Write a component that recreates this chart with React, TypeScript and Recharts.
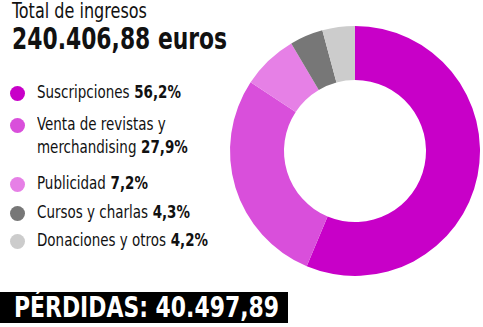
import React from 'react';
import { PieChart, Pie, Cell } from 'recharts';

const categories = ['Suscripciones', 'Venta de revistas y merchandising', 'Publicidad', 'Cursos y charlas', 'Donaciones y otros'];
const legendLines = [['Suscripciones'], ['Venta de revistas y', 'merchandising'], ['Publicidad'], ['Cursos y charlas'], ['Donaciones y otros']];
const shares = [56.2, 27.9, 7.2, 4.3, 4.2];
const colors = ['#c800c8', '#d94fdb', '#e680e6', '#777777', '#cccccc'];
// vertical centre of every legend entry's first line
const legendRowY = [92, 124, 183, 212, 240];

const data = categories.map((name, i) => ({ name, value: shares[i] }));

const FONT = '"DejaVu Sans Condensed", "DejaVu Sans", sans-serif';

const fmt = (v: number) => v.toFixed(1).replace('.', ',') + '%';

// narrow text, the original uses a condensed face
const Squeeze: React.FC<{ sx: number; children: React.ReactNode }> = ({ sx, children }) => (
    <span style={{ display: 'inline-block', transform: `scaleX(${sx})`, transformOrigin: 'left center', whiteSpace: 'nowrap' }}>{children}</span>
);

const App: React.FC = () => {
    return (
        <div style={{ position: 'absolute', left: 0, top: 0, width: 483, height: 327, background: '#fff', fontFamily: FONT, fontStretch: 'condensed', color: '#111', overflow: 'hidden' }}>
            <div style={{ position: 'absolute', left: 0, top: 0 }}>
                <PieChart width={483} height={327} margin={{ top: 0, right: 0, bottom: 0, left: 0 }}>
                    <Pie
                        data={data}
                        dataKey="value"
                        cx={355}
                        cy={151}
                        innerRadius={71}
                        outerRadius={125}
                        startAngle={90}
                        endAngle={-270}
                        stroke="none"
                        isAnimationActive={false}
                    >
                        {data.map((d, i) => <Cell key={d.name} fill={colors[i]} />)}
                    </Pie>
                </PieChart>
            </div>

            <div style={{ position: 'absolute', left: 12, top: -1, fontSize: 21, lineHeight: '24px' }}>
                <Squeeze sx={0.85}>Total de ingresos</Squeeze>
            </div>
            <div style={{ position: 'absolute', left: 12, top: 22, fontSize: 30, lineHeight: '34px', fontWeight: 'bold' }}>
                <Squeeze sx={0.81}>240.406,88 euros</Squeeze>
            </div>

            {legendLines.map((lines, i) => (
                <div key={categories[i]}>
                    <span style={{ position: 'absolute', left: 10, top: legendRowY[i] - 6, width: 15, height: 15, borderRadius: '50%', background: colors[i] }} />
                    {lines.map((l, j) => (
                        <div key={j} style={{ position: 'absolute', left: 37, top: legendRowY[i] - 11 + j * 23, fontSize: 17, lineHeight: '22px' }}>
                            <Squeeze sx={0.88}>
                                {l}
                                {j === lines.length - 1 && <b> {fmt(shares[i])}</b>}
                            </Squeeze>
                        </div>
                    ))}
                </div>
            ))}

            <div style={{ position: 'absolute', left: 0, top: 292, width: 288, height: 31, background: '#000', color: '#fff', fontSize: 28, lineHeight: '31px', fontWeight: 'bold', paddingLeft: 14, boxSizing: 'border-box', whiteSpace: 'nowrap', overflow: 'hidden' }}>
                <Squeeze sx={0.87}>PÉRDIDAS: 40.497,89</Squeeze>
            </div>
        </div>
    );
};

export default App;
